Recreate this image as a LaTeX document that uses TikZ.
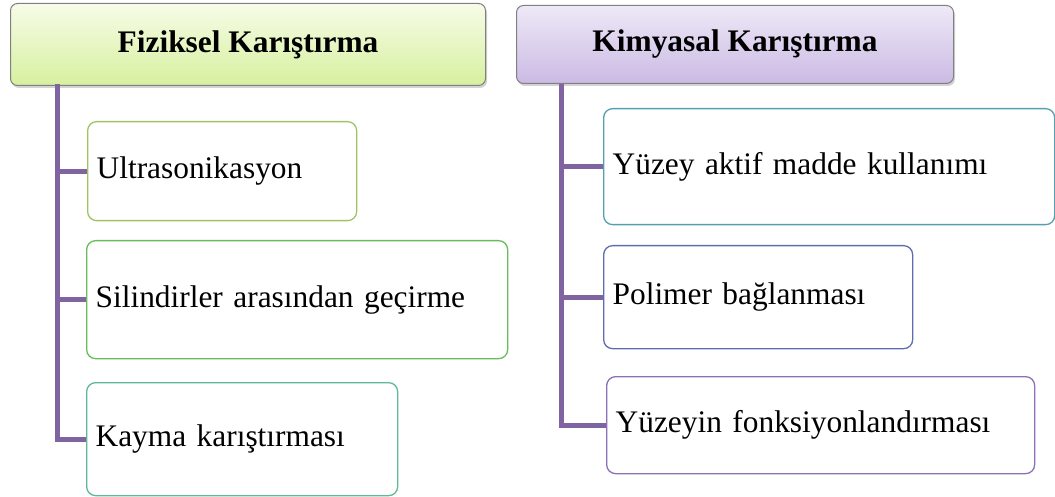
\documentclass[tikz,border=0pt]{standalone}
\usepackage{fontspec}
\setmainfont{Liberation Serif}
\usepackage{tikz}
\usetikzlibrary{positioning,shadows}
\definecolor{trunkcol}{RGB}{128,100,162}
\definecolor{greenA}{RGB}{247,252,232}
\definecolor{greenB}{RGB}{214,240,158}
\definecolor{purpA}{RGB}{238,233,247}
\definecolor{purpB}{RGB}{203,186,228}
\definecolor{ultcol}{RGB}{160,195,100}
\definecolor{silcol}{RGB}{104,186,92}
\definecolor{kaycol}{RGB}{96,184,148}
\definecolor{yuzcol}{RGB}{84,160,176}
\definecolor{polcol}{RGB}{96,108,176}
\definecolor{foncol}{RGB}{142,112,182}

\begin{document}
\begin{tikzpicture}[x=1bp, y=-1bp,
	font=\fontsize{31.5}{36}\selectfont,
	head/.style={draw=black!50, line width=1bp, rounded corners=7bp, anchor=north west, font=\fontsize{31.5}{36}\selectfont\bfseries, drop shadow={opacity=0.35, shadow xshift=1.5bp, shadow yshift=-2.5bp}},
	item/.style={draw, line width=1.3bp, rounded corners=9bp, anchor=north west, inner xsep=9bp, align=left, fill=white},
	trunk/.style={draw=trunkcol, line width=5bp}]
	\useasboundingbox (0,0) rectangle (1055,497);
	% headers
	\node[head, top color=greenA, bottom color=greenB, minimum width=475bp, minimum height=82bp] (hfiz) at (10,3) {Fiziksel Karıştırma};
	\node[head, top color=purpA, bottom color=purpB, minimum width=437bp, minimum height=78bp] (hkim) at (516,5) {Kimyasal Karıştırma};
	% left column
	\node[item, draw=ultcol, minimum width=269bp, text width=251bp, minimum height=99bp] (ult) at (87,121) {Ultrasonikasyon};
	\node[item, draw=silcol, minimum width=421bp, text width=403bp, minimum height=118bp] (sil) at (86,240) {Silindirler arasından geçirme};
	\node[item, draw=kaycol, minimum width=311bp, text width=293bp, minimum height=113bp] (kay) at (86,382) {Kayma karıştırması};
	% right column
	\node[item, draw=yuzcol, minimum width=451bp, text width=433bp, minimum height=116bp] (yuz) at (603,108) {Yüzey aktif madde kullanımı};
	\node[item, draw=polcol, minimum width=309bp, text width=291bp, minimum height=103bp] (pol) at (603,245) {Polimer bağlanması};
	\node[item, draw=foncol, minimum width=428bp, text width=410bp, minimum height=97bp] (fon) at (606,376) {Yüzeyin fonksiyonlandırması};
	% connectors
	\coordinate (tf) at (57.5,84);
	\coordinate (tk) at (561,84);
	\draw[trunk] (tf) |- (kay.west);
	\draw[trunk] (tf |- ult.west) -- (ult.west);
	\draw[trunk] (tf |- sil.west) -- (sil.west);
	\draw[trunk] (tk) |- (fon.west);
	\draw[trunk] (tk |- yuz.west) -- (yuz.west);
	\draw[trunk] (tk |- pol.west) -- (pol.west);
\end{tikzpicture}
\end{document}
